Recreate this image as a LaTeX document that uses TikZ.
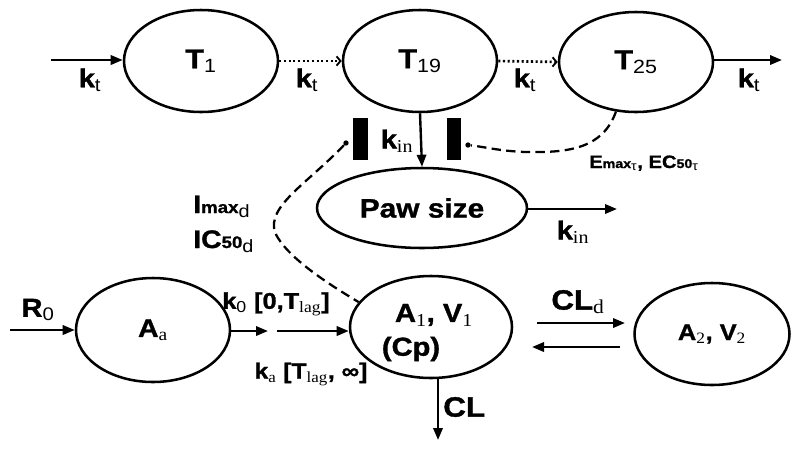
\documentclass[tikz,border=0pt]{standalone}
\usepackage{fontspec}
\setmainfont{Liberation Sans}[FakeStretch=1.12, BoldFeatures={FakeBold=1.2}]
\newfontfamily\srf{Liberation Serif}[FakeStretch=1.1]
\usetikzlibrary{arrows.meta,shapes.geometric}
\newcommand{\fs}[1]{\fontsize{#1}{#1}\selectfont}
\newcommand{\ssub}[1]{\textsubscript{\srf\mdseries #1}}
\newcommand{\nsub}[1]{\textsubscript{\mdseries #1}}
\tikzset{
  ell/.style={draw, ellipse, line width=1.9pt, inner sep=0pt, font=\bfseries\fs{20.5pt}},
  arr/.style={line width=1.8pt, -{Triangle[length=9pt,width=7pt]}},
  dotarr/.style={line width=2pt, dash pattern=on 1.6pt off 1.9pt, -{Straight Barb[length=3pt,width=7pt,line width=1.4pt]}},
  dashline/.style={line width=1.7pt, dash pattern=on 7pt off 4pt},
  barbox/.style={fill=black, inner sep=0pt, minimum height=31.5pt},
  lbl/.style={inner sep=0pt, font=\bfseries\fs{19.5pt}},
  dotnode/.style={circle, fill=black, inner sep=0pt, minimum size=4pt}
}
\begin{document}
\begin{tikzpicture}[x=0.75pt,y=-0.75pt]
\path[use as bounding box] (0,0) rectangle (800,451);

% top row
\node[ell, minimum width=115.5pt, minimum height=76.5pt] (T1) at (201,61) {T\nsub{1}};
\node[ell, minimum width=115.5pt, minimum height=76.5pt] (T19) at (420,61) {T\nsub{19}};
\node[ell, minimum width=115.5pt, minimum height=75pt] (T25) at (636,62) {T\nsub{25}};
\node[ell, minimum width=157.5pt, minimum height=60pt, font=\bfseries\fs{20pt}] (Paw) at (422,208) {Paw size};

% bottom row
\node[ell, minimum width=115.5pt, minimum height=78pt, font=\bfseries\fs{19pt}] (Aa) at (153,330) {A\ssub{a}};
\node[ell, minimum width=121.5pt, minimum height=76.5pt] (A1) at (431,327) {};
\node[ell, minimum width=116.25pt, minimum height=76.5pt, font=\bfseries\fs{17pt}] (A2) at (712,334) {A\ssub{2}, V\ssub{2}};
\node[lbl] (A1t) at (434,315) {A\ssub{1}, V\ssub{1}};
\node[lbl] (Cpt) at (411,349) {(Cp)};

% coordinates for free ends
\coordinate (in1) at (51,60);
\coordinate (out25) at (782,60);
\coordinate (pawout) at (617,209);
\coordinate (r0) at (10,330);
\coordinate (m1) at (268,331);
\coordinate (m2) at (277,331);
\coordinate (c1) at (537,323);
\coordinate (c2) at (625,323);
\coordinate (c3) at (620,347);
\coordinate (c4) at (532,347);
\coordinate (clend) at (438,440);

% arrows top
\draw[arr] (in1) -- (in1 -| T1.west);
\draw[dotarr] (T1.east) -- (T19.west);
\draw[dotarr] (T19.east) -- (T25.west);
\draw[arr] (out25 -| T25.east) -- (out25);
\draw[arr] (T19.south) -- (Paw.north);
\draw[arr] (pawout -| Paw.east) -- (pawout);

% arrows bottom
\draw[arr] (r0) -- (r0 -| Aa.west);
\draw[arr] (m1 -| Aa.east) -- (m1);
\draw[arr] (m2) -- (m2 -| A1.west);
\draw[arr] (c1) -- (c2);
\draw[arr] (c3) -- (c4);
\draw[arr] (clend |- A1.south) -- (clend);

% bars
\node[barbox, minimum width=11.25pt] (bar1) at (360.5,139) {};
\node[barbox, minimum width=10.5pt] (bar2) at (453.5,139) {};
\node[dotnode] (d1) at (346,143) {};
\node[dotnode] (d2) at (468,145) {};

% dashed curves
\draw[dashline] (T25.-112) .. controls (603,148) and (570,153) .. (525,152)
   .. controls (500,151) and (485,147) .. (d2);
\draw[dashline] (d1) .. controls (305,186) and (260,210) .. (278,238)
   .. controls (293,262) and (335,288) .. (A1.161);

% labels
\node[lbl] (kt1) at (90,80) {k\nsub{t}};
\node[lbl] (kt2) at (307,80) {k\nsub{t}};
\node[lbl] (kt3) at (525,80) {k\nsub{t}};
\node[lbl] (kt4) at (749,80) {k\nsub{t}};
\node[lbl] (kin1) at (397,141) {k\ssub{in}};
\node[lbl] (kin2) at (573,232) {k\ssub{in}};
\node[lbl, anchor=base west] (emax) at (589,168) {\fs{13.5pt}E{\fs{9.5pt}max}\nsub{τ}, EC{\fs{9.5pt}50}\nsub{τ}};
\node[lbl, anchor=base west] (imax) at (193,213) {\fs{19pt}I{\fs{12.5pt}max}\nsub{d}};
\node[lbl, anchor=base west] (ic50) at (193,248) {\fs{19pt}IC{\fs{12.5pt}50}\nsub{d}};
\node[lbl] (r0l) at (38,310) {R\nsub{0}};
\node[lbl, font=\bfseries\fs{17pt}] (k0l) at (276,304) {k\nsub{0} [0,T\ssub{lag}]};
\node[lbl, font=\bfseries\fs{16.5pt}] (kal) at (311,374) {k\ssub{a} [T\ssub{lag}, ∞]};
\node[lbl, font=\bfseries\fs{21pt}] (cld) at (578,302) {CL\ssub{d}};
\node[lbl, font=\bfseries\fs{21pt}, anchor=west] (cll) at (443,407) {CL};
\end{tikzpicture}
\end{document}
